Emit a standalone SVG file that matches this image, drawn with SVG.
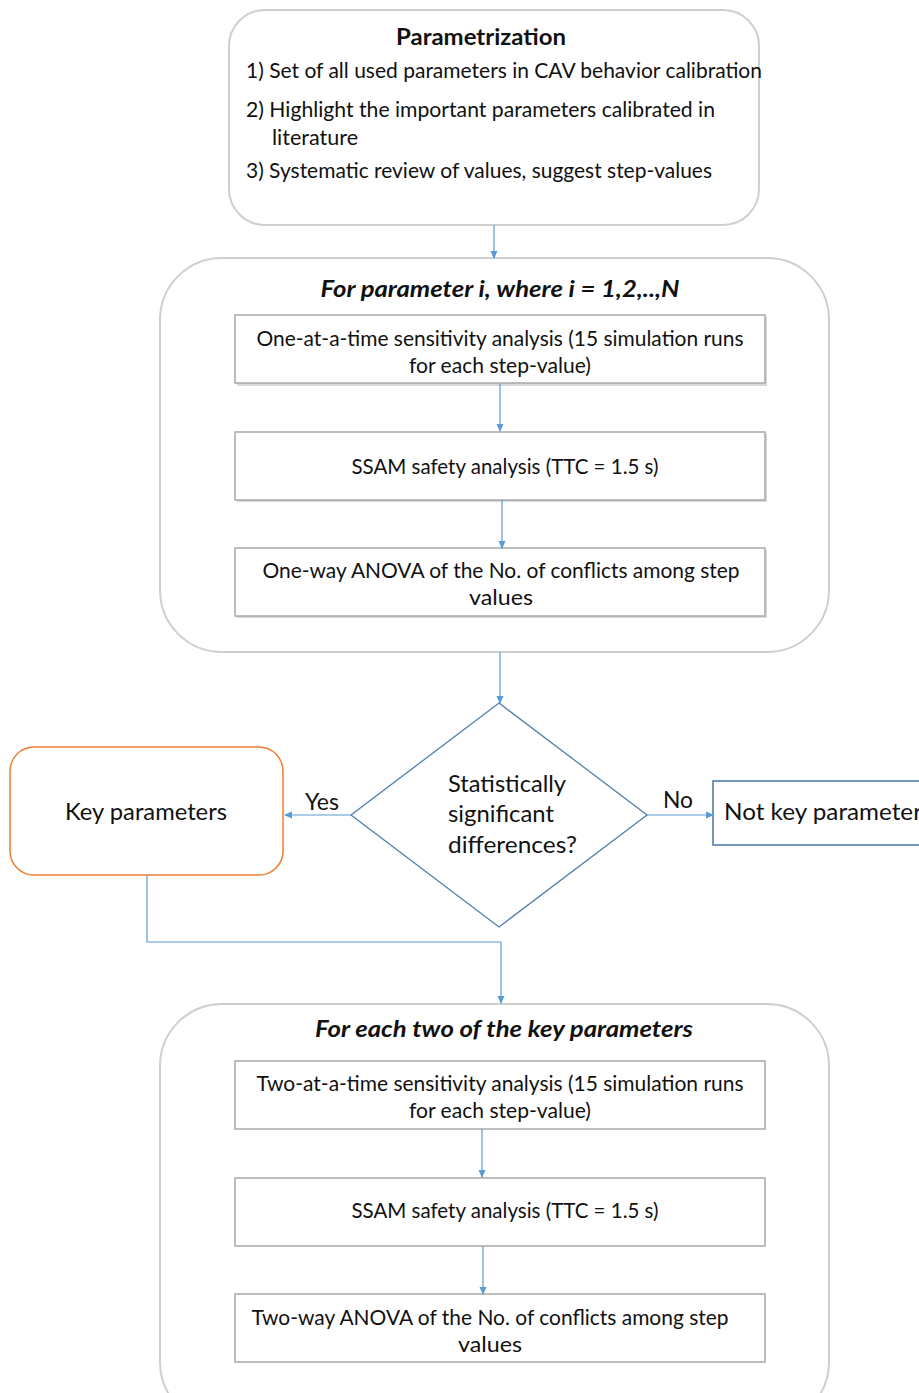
<svg xmlns="http://www.w3.org/2000/svg" width="919" height="1393" viewBox="0 0 919 1393">
<defs>
<style>
text{font-family:Lato,"Open Sans","Liberation Sans",sans-serif;font-size:21px;fill:#111}
.c{text-anchor:middle}
.t{font-weight:bold;font-size:23px}
.ti{font-weight:bold;font-style:italic;font-size:23px}
.lg{font-size:23.5px}
.cont{fill:#fff;stroke:#cfcfcf;stroke-width:2}
.box{fill:#fff;stroke:#a8a8a8;stroke-width:1.5}
.sh{fill:#d9d9d9}
.conn{fill:none;stroke:#5b9bd5;stroke-width:1.2}
</style>
<marker id="ah" markerWidth="8" markerHeight="8" refX="7" refY="4" orient="auto" markerUnits="userSpaceOnUse">
<path d="M0,0.5 L8,4 L0,7.5 Z" fill="#5b9bd5"/>
</marker>
</defs>
<rect width="919" height="1393" fill="#fff"/>

<g id="parametrization">
<rect class="cont" x="229" y="10" width="530" height="215" rx="36"/>
<text class="t c" x="481" y="45" textLength="170" lengthAdjust="spacingAndGlyphs">Parametrization</text>
<text x="246" y="78" textLength="516" lengthAdjust="spacingAndGlyphs">1) Set of all used parameters in CAV behavior calibration</text>
<text x="246" y="117" textLength="469" lengthAdjust="spacingAndGlyphs">2) Highlight the important parameters calibrated in</text>
<text x="272" y="145" textLength="86" lengthAdjust="spacingAndGlyphs">literature</text>
<text x="246" y="178" textLength="466" lengthAdjust="spacingAndGlyphs">3) Systematic review of values, suggest step-values</text>
</g>

<g id="loop1">
<rect class="cont" x="160" y="258" width="669" height="394" rx="62"/>
<text class="ti c" x="500" y="297" textLength="359" lengthAdjust="spacingAndGlyphs">For parameter i, where i = 1,2,..,N</text>
</g>

<g id="oat">
<rect class="sh" x="237" y="317" width="530" height="69"/>
<rect class="box" x="235" y="315" width="530" height="68"/>
<text class="c" x="500" y="346" textLength="487" lengthAdjust="spacingAndGlyphs">One-at-a-time sensitivity analysis (15 simulation runs</text>
<text class="c" x="500" y="373" textLength="182" lengthAdjust="spacingAndGlyphs">for each step-value)</text>
</g>

<g id="ssam1">
<rect class="sh" x="237" y="434" width="530" height="68"/>
<rect class="box" x="235" y="432" width="530" height="68"/>
<text class="c" x="505" y="474" textLength="307" lengthAdjust="spacingAndGlyphs">SSAM safety analysis (TTC = 1.5 s)</text>
</g>

<g id="anova1">
<rect class="sh" x="237" y="550" width="530" height="68"/>
<rect class="box" x="235" y="548" width="530" height="68"/>
<text class="c" x="501" y="578" textLength="477" lengthAdjust="spacingAndGlyphs">One-way ANOVA  of the No. of conflicts among step</text>
<text class="c" x="501" y="605" textLength="64" lengthAdjust="spacingAndGlyphs">values</text>
</g>

<g id="decision">
<polygon points="499,703 647,815 499,927 351,815" fill="#fff" stroke="#4f7fb0" stroke-width="1.3"/>
<text class="lg" x="448" y="792" textLength="118" lengthAdjust="spacingAndGlyphs">Statistically</text>
<text class="lg" x="448" y="822" textLength="106" lengthAdjust="spacingAndGlyphs">significant</text>
<text class="lg" x="448" y="853" textLength="129" lengthAdjust="spacingAndGlyphs">differences?</text>
</g>

<g id="key">
<rect x="10" y="747" width="273" height="128" rx="24" fill="#fff" stroke="#ed7d31" stroke-width="1.5"/>
<text class="lg c" x="146" y="820" textLength="162" lengthAdjust="spacingAndGlyphs">Key parameters</text>
</g>

<g id="notkey">
<rect x="713" y="781" width="220" height="64" fill="#fff" stroke="#4a76a8" stroke-width="1.5"/>
<text class="lg" x="724" y="820" textLength="198" lengthAdjust="spacingAndGlyphs">Not key parameter</text>
</g>

<g id="loop2">
<rect class="cont" x="160" y="1004" width="669" height="420" rx="62"/>
<text class="ti c" x="504" y="1037" textLength="378" lengthAdjust="spacingAndGlyphs">For each two of the key parameters</text>
</g>

<g id="tat">
<rect class="box" x="235" y="1061" width="530" height="68"/>
<text class="c" x="500" y="1091" textLength="487" lengthAdjust="spacingAndGlyphs">Two-at-a-time sensitivity analysis (15 simulation runs</text>
<text class="c" x="500" y="1118" textLength="182" lengthAdjust="spacingAndGlyphs">for each step-value)</text>
</g>

<g id="ssam2">
<rect class="box" x="235" y="1178" width="530" height="68"/>
<text class="c" x="505" y="1218" textLength="307" lengthAdjust="spacingAndGlyphs">SSAM safety analysis (TTC = 1.5 s)</text>
</g>

<g id="anova2">
<rect class="box" x="235" y="1294" width="530" height="68"/>
<text class="c" x="490" y="1325" textLength="477" lengthAdjust="spacingAndGlyphs">Two-way ANOVA  of the No. of conflicts among step</text>
<text class="c" x="490" y="1352" textLength="64" lengthAdjust="spacingAndGlyphs">values</text>
</g>

<g id="connectors">
<line class="conn" x1="494" y1="225" x2="494" y2="258" marker-end="url(#ah)"/>
<line class="conn" x1="500" y1="384" x2="500" y2="431" marker-end="url(#ah)"/>
<line class="conn" x1="502" y1="500" x2="502" y2="548" marker-end="url(#ah)"/>
<line class="conn" x1="500" y1="652" x2="500" y2="703" marker-end="url(#ah)"/>
<line class="conn" x1="351" y1="815" x2="285" y2="815" marker-end="url(#ah)"/>
<text class="lg" x="305" y="810" textLength="34" lengthAdjust="spacingAndGlyphs">Yes</text>
<line class="conn" x1="647" y1="815" x2="713" y2="815" marker-end="url(#ah)"/>
<text class="lg" x="663" y="808" textLength="30" lengthAdjust="spacingAndGlyphs">No</text>
<polyline class="conn" points="147,875 147,942 501,942 501,1003" marker-end="url(#ah)"/>
<line class="conn" x1="482" y1="1129" x2="482" y2="1177" marker-end="url(#ah)"/>
<line class="conn" x1="483" y1="1246" x2="483" y2="1294" marker-end="url(#ah)"/>
</g>
</svg>
